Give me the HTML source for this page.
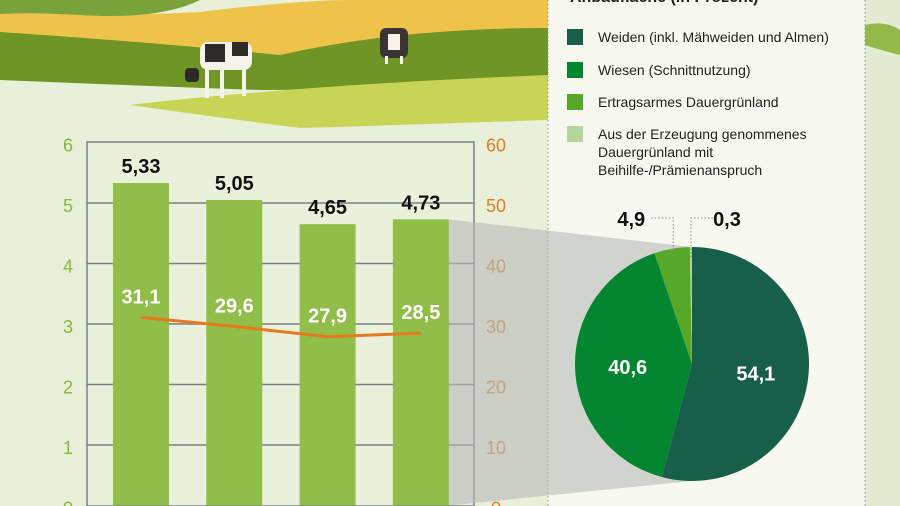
<!DOCTYPE html>
<html><head><meta charset="utf-8"><style>
body{margin:0;width:900px;height:506px;overflow:hidden;background:#e9f0da;font-family:"Liberation Sans",sans-serif}
svg{display:block}
text{font-family:"Liberation Sans",sans-serif}
</style></head><body>
<svg id="c" width="900" height="506">
<g>
<rect x="0" y="0" width="548" height="140" fill="#e9f0da"/>
<path d="M0,10 Q100,18 200,12 Q300,0 350,0 L548,0 L548,30 Q420,38 300,58 Q150,50 60,40 Q20,36 0,38Z" fill="#efc24a"/>
<path d="M0,0 L200,0 Q160,20 80,15 Q30,12 0,14Z" fill="#7aa23a"/>
<path d="M0,32 Q150,42 280,55 Q400,28 548,28 L548,80 Q400,90 260,90 Q120,85 0,80Z" fill="#6f9526"/>
<path d="M130,105 Q300,85 548,75 L548,120 Q400,125 300,128 Q200,115 130,105Z" fill="#c8d455"/>
<g>
<rect x="200" y="42" width="52" height="28" rx="8" fill="#f5f3ea"/>
<rect x="205" y="44" width="20" height="18" fill="#2e2a28"/>
<rect x="232" y="42" width="16" height="14" fill="#2e2a28"/>
<rect x="185" y="68" width="14" height="14" rx="4" fill="#2e2a28"/>
<rect x="205" y="68" width="4" height="30" fill="#f5f3ea"/><rect x="220" y="68" width="4" height="30" fill="#f5f3ea"/><rect x="242" y="68" width="4" height="28" fill="#f5f3ea"/>
</g>
<g>
<rect x="380" y="28" width="28" height="30" rx="6" fill="#3a3533"/>
<rect x="388" y="34" width="12" height="16" fill="#f5f3ea"/>
<rect x="385" y="56" width="3" height="8" fill="#f5f3ea"/><rect x="400" y="56" width="3" height="8" fill="#f5f3ea"/>
</g>
</g>
<rect x="865" y="0" width="35" height="506" fill="#e3ecd2"/>
<path d="M865,25 Q885,20 900,30 L900,55 Q880,50 865,45Z" fill="#95b84a"/>
<rect x="548" y="0" width="317" height="506" fill="#f7f9f1"/>
<line x1="548" y1="0" x2="548" y2="506" stroke="#8a8f95" stroke-dasharray="1.5 2.5"/>
<line x1="865" y1="0" x2="865" y2="506" stroke="#8a8f95" stroke-dasharray="1.5 2.5"/>
<text x="570" y="2" font-size="16" font-weight="bold" fill="#222">Anbaufläche (in Prozent)</text>
<g id="legend"></g>
<rect x="87" y="142" width="387" height="364" fill="#eaf1da" stroke="#7a7f86" stroke-width="1.5"/>
<g id="grid"></g>
<polygon id="proj" fill="#b7b9b7" opacity="0.6"/>
<g id="bars"></g>
<g id="line"></g>
<g id="pie"></g>
</svg>
<script>
const years=["y1","y2","y3","y4"];
const barValues=[5.33,5.05,4.65,4.73];
const barLabels=["5,33","5,05","4,65","4,73"];
const lineValues=[31.1,29.6,27.9,28.5];
const lineLabels=["31,1","29,6","27,9","28,5"];
const leftTicks=[0,1,2,3,4,5,6];
const rightTicks=[0,10,20,30,40,50,60];
const pieValues=[54.1,40.6,4.9,0.3];
const pieLabels=["54,1","40,6","4,9","0,3"];
const pieNames=["Weiden (inkl. Mähweiden und Almen)","Wiesen (Schnittnutzung)","Ertragsarmes Dauergrünland","Aus der Erzeugung genommenes|Dauergrünland mit|Beihilfe-/Prämienanspruch"];
const pieColors=["#175f4a","#03862f","#55a82a","#b5d69a"];
const NS="http://www.w3.org/2000/svg";
function mk(t,a,p){const e=document.createElementNS(NS,t);for(const k in a)e.setAttribute(k,a[k]);p.appendChild(e);return e;}
const y0=505.5,unit=60.5;
const yL=v=>y0-v*unit, yR=v=>y0-v/10*unit;
const bx0=113,bstep=93.3,bw=56;
const xB=i=>bx0+i*bstep;
const grid=document.getElementById('grid');
leftTicks.forEach(t=>{
 if(t>0&&t<6){const l=mk('line',{x1:87,x2:474,y1:yL(t),y2:yL(t),stroke:'#7a7f86','stroke-width':1.5},grid);
 
 }
 const tx=mk('text',{x:68,y:yL(t)+9,'font-size':18,fill:'#86b838','text-anchor':'middle'},grid);tx.textContent=t;
 
 
});
rightTicks.forEach(t=>{
 const tx=mk('text',{x:496,y:yR(t)+9,'font-size':18,fill:'#e07a26','text-anchor':'middle'},grid);tx.textContent=t;
 
 
});
const bars=document.getElementById('bars');
barValues.forEach((v,i)=>{
 const r=mk('rect',{x:xB(i),y:yL(v),width:bw,height:y0-yL(v),fill:'#90be48'},bars);
 
 
 const t=mk('text',{x:xB(i)+bw/2,y:yL(v)-10,'font-size':20,'font-weight':'bold',fill:'#111','text-anchor':'middle'},bars);t.textContent=barLabels[i];
 
 
});
const cx=692,cy=364,R=117;
const last=barValues.length-1;
document.getElementById('proj').setAttribute('points',`${xB(last)+bw},${yL(barValues[last])} ${cx},${cy-R} ${cx},${cy+R} ${xB(last)+bw},${y0}`);
const lg=document.getElementById('line');
const pts=lineValues.map((v,i)=>[xB(i)+bw/2,yR(v)]);
const pl=mk('polyline',{points:pts.map(p=>p.join(',')).join(' '),fill:'none',stroke:'#e8791e','stroke-width':3},lg);


pts.forEach((p,i)=>{const t=mk('text',{x:p[0],y:p[1]-14,'font-size':20,'font-weight':'bold',fill:'#fff','text-anchor':'middle'},lg);t.textContent=lineLabels[i];
 
 });
const pie=document.getElementById('pie');
const tot=pieValues.reduce((a,b)=>a+b,0);let a0=0;
pieValues.forEach((v,i)=>{
 const a1=a0+v/tot*2*Math.PI;
 const p=(a)=>[cx+R*Math.sin(a),cy-R*Math.cos(a)];
 const s=p(a0),e=p(a1);
 const path=mk('path',{d:`M${cx},${cy} L${s[0]},${s[1]} A${R},${R} 0 ${a1-a0>Math.PI?1:0} 1 ${e[0]},${e[1]} Z`,fill:pieColors[i]},pie);
 
 
 const am=(a0+a1)/2;
 if(v>10){const t=mk('text',{x:cx+R*0.55*Math.sin(am),y:cy-R*0.55*Math.cos(am)+8,'font-size':20,'font-weight':'bold',fill:'#fff','text-anchor':'middle'},pie);t.textContent=pieLabels[i];
  
  }
 else{const mx=cx+(R-8)*Math.sin(am), left=i==2;
  mk('path',{d:`M${mx},${cy-R+10} L${mx},${218} L${left?mx-22:mx+26},218`,fill:'none',stroke:'#888','stroke-dasharray':'1.5 2'},pie);
  const t=mk('text',{x:left?mx-42:mx+36,y:226,'font-size':20,'font-weight':'bold',fill:'#111','text-anchor':'middle'},pie);t.textContent=pieLabels[i];
  
  }
 a0=a1;
});
const leg=document.getElementById('legend');
const ly=[37,70,102,134];
pieNames.forEach((n,i)=>{
 const r=mk('rect',{x:567,y:ly[i]-8,width:16,height:16,fill:pieColors[i]},leg);
 
 
 n.split('|').forEach((ln,j)=>{const t=mk('text',{x:598,y:ly[i]+5+j*18,'font-size':14,fill:'#222'},leg);t.textContent=ln;
  
  });
});
</script>
</body></html>
